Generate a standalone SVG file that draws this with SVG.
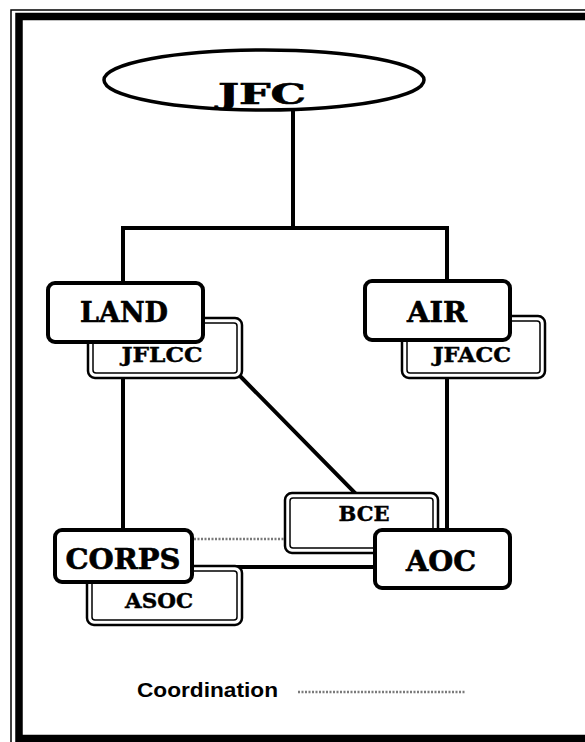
<svg xmlns="http://www.w3.org/2000/svg" width="585" height="742" viewBox="0 0 585 742">
<style>
.ln{stroke:#000;stroke-width:4;fill:none;stroke-linecap:square}
.box{fill:#fff;stroke:#000;stroke-width:4}
.dbo{fill:#fff;stroke:#000;stroke-width:2.5}
.dbi{fill:none;stroke:#000;stroke-width:1.5}
.big{font-family:"DejaVu Serif","Liberation Serif",serif;font-weight:bold;font-size:27px;text-anchor:middle;fill:#000;stroke:#000;stroke-width:0.6}
.sm{font-family:"DejaVu Serif","Liberation Serif",serif;font-weight:bold;font-size:20px;text-anchor:middle;fill:#000;stroke:#000;stroke-width:0.4}
.coord{stroke:#7a7a7a;stroke-width:2.5;stroke-dasharray:2 1.5;fill:none}
</style>
<rect width="585" height="742" fill="#fff"/>
<g id="frame">
<rect x="11" y="10" width="600" height="760" fill="none" stroke="#000" stroke-width="1.5"/>
<rect x="19" y="16.5" width="600" height="722" fill="none" stroke="#000" stroke-width="7.5"/>
</g>
<g id="connectors">
<line class="ln" x1="293" y1="108" x2="293" y2="228"/>
<polyline class="ln" points="123,567 123,228 447,228 447,567"/>
<line class="ln" x1="123" y1="567" x2="447" y2="567"/>
<line class="ln" x1="240" y1="376" x2="354" y2="492"/>
<line class="coord" x1="194" y1="539" x2="284" y2="539"/>
</g>
<g id="JFC">
<ellipse cx="264" cy="80" rx="160" ry="30" fill="#fff" stroke="#000" stroke-width="3.5"/>
<text x="262" y="104" class="big" font-size="42" stroke-width="0.8" textLength="88" lengthAdjust="spacingAndGlyphs">JFC</text>
</g>
<g id="JFLCC">
<rect class="dbo" x="88" y="318" width="154" height="60" rx="7"/>
<rect class="dbi" x="93" y="323" width="144" height="50" rx="3"/>
<text x="162" y="362" class="sm" textLength="81" lengthAdjust="spacingAndGlyphs">JFLCC</text>
</g>
<g id="LAND">
<rect class="box" x="48" y="283" width="155" height="59" rx="7"/>
<text x="124" y="322" class="big" textLength="88" lengthAdjust="spacingAndGlyphs">LAND</text>
</g>
<g id="JFACC">
<rect class="dbo" x="402" y="316" width="143" height="62" rx="7"/>
<rect class="dbi" x="407" y="321" width="133" height="52" rx="3"/>
<text x="472" y="362" class="sm" textLength="78" lengthAdjust="spacingAndGlyphs">JFACC</text>
</g>
<g id="AIR">
<rect class="box" x="365" y="281" width="145" height="59" rx="7"/>
<text x="437" y="322" class="big" textLength="60" lengthAdjust="spacingAndGlyphs">AIR</text>
</g>
<g id="BCE">
<rect class="dbo" x="285" y="493" width="153" height="60" rx="7"/>
<rect class="dbi" x="290" y="498" width="143" height="50" rx="3"/>
<text x="364" y="521" class="sm" textLength="51" lengthAdjust="spacingAndGlyphs">BCE</text>
</g>
<g id="AOC">
<rect class="box" x="375" y="530" width="135" height="58" rx="7"/>
<text x="441" y="571" class="big" textLength="70" lengthAdjust="spacingAndGlyphs">AOC</text>
</g>
<g id="ASOC">
<rect class="dbo" x="87" y="566" width="155" height="59" rx="7"/>
<rect class="dbi" x="92" y="571" width="145" height="49" rx="3"/>
<text x="159" y="608" class="sm" textLength="68" lengthAdjust="spacingAndGlyphs">ASOC</text>
</g>
<g id="CORPS">
<rect class="box" x="55" y="530" width="137" height="52" rx="7"/>
<text x="123" y="569" class="big" textLength="115" lengthAdjust="spacingAndGlyphs">CORPS</text>
</g>
<g id="legend">
<text x="137" y="697" font-family="Liberation Sans,Arial,sans-serif" font-weight="bold" font-size="20" textLength="141" lengthAdjust="spacingAndGlyphs">Coordination</text>
<line class="coord" x1="298" y1="692" x2="465" y2="692"/>
</g>
</svg>
